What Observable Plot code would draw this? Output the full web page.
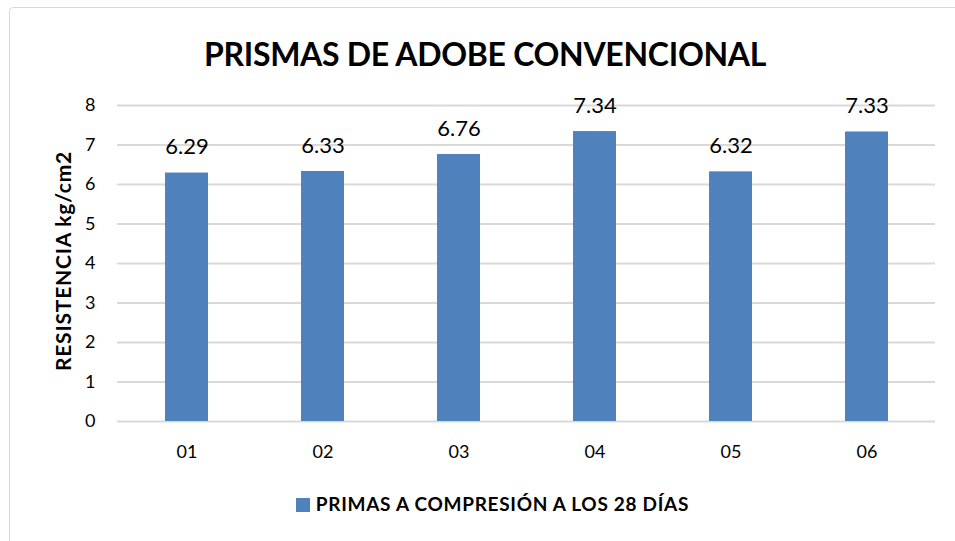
<!DOCTYPE html>
<html>
<head>
<meta charset="utf-8">
<script src="https://cdn.jsdelivr.net/npm/d3@7"></script>
<script src="https://cdn.jsdelivr.net/npm/@observablehq/plot@0.6"></script>
<style>
  html, body { margin: 0; padding: 0; background: #fff; overflow: hidden; }
  #wrap { position: relative; width: 955px; height: 541px; font-family: Lato, "Open Sans", sans-serif; }
  #frame { position: absolute; left: 9px; top: 7px; width: 960px; height: 545px; border: 1px solid #D9D9D9; border-radius: 4px; box-sizing: border-box; }
  #title { position: absolute; left: 0; width: 970px; top: 34px; text-align: center; font-weight: 700; font-size: 32px; color: #000; letter-spacing: -0.3px; }
  #legend { position: absolute; left: 0; width: 985px; top: 492px; text-align: center; font-weight: 700; font-size: 19px; letter-spacing: 0.7px; color: #000; white-space: nowrap; }
  #legend .sw { display: inline-block; width: 14px; height: 14px; background: #4F81BD; vertical-align: -1px; margin-right: 6px; }
  #ylabel { position: absolute; left: 62px; top: 261px; transform: translate(-50%, -50%) rotate(-90deg); font-weight: 700; font-size: 21px; white-space: nowrap; letter-spacing: 0.8px; color: #000; }
  #chart { position: absolute; left: 0; top: 0; }
</style>
</head>
<body>
<div id="wrap">
  <div id="frame"></div>
  <div id="chart"></div>
  <div id="title">PRISMAS DE ADOBE CONVENCIONAL</div>
  <div id="ylabel"></div>
  <div id="legend"><span class="sw"></span><span id="legtext"></span></div>
</div>
<script>
const categories = ["01", "02", "03", "04", "05", "06"];
const values = [6.29, 6.33, 6.76, 7.34, 6.32, 7.33];
const yTicks = [0, 1, 2, 3, 4, 5, 6, 7, 8];
const yLabel = "RESISTENCIA kg/cm2";
const seriesName = "PRIMAS A COMPRESIÓN A LOS 28 DÍAS";

document.getElementById("ylabel").textContent = yLabel;
document.getElementById("legtext").textContent = seriesName;

const data = categories.map((c, i) => ({cat: c, val: values[i]}));

const chart = Plot.plot({
  width: 955,
  height: 541,
  marginTop: 105,
  marginBottom: 120,
  marginLeft: 117,
  marginRight: 20,
  style: {fontFamily: "Lato, 'Open Sans', sans-serif", background: "transparent", color: "#000"},
  x: {domain: categories, paddingInner: 0.685, paddingOuter: 0.3425, label: null},
  y: {domain: [0, 8], label: null},
  marks: [
    Plot.gridY(yTicks, {stroke: "#D9D9D9", strokeOpacity: 1, strokeWidth: 2}),
    Plot.barY(data, {x: "cat", y: "val", fill: "#4F81BD"}),
    Plot.text(data, {x: "cat", y: "val", text: d => d.val.toFixed(2), dy: -26, fontSize: 22, fill: "#000", lineAnchor: "middle"}),
    Plot.axisY({ticks: yTicks, tickSize: 0, tickPadding: 22, fontSize: 18, label: null, tickFormat: d => String(d)}),
    Plot.axisX({tickSize: 0, tickPadding: 24, fontSize: 18, label: null})
  ]
});
document.getElementById("chart").appendChild(chart);
</script>
</body>
</html>
